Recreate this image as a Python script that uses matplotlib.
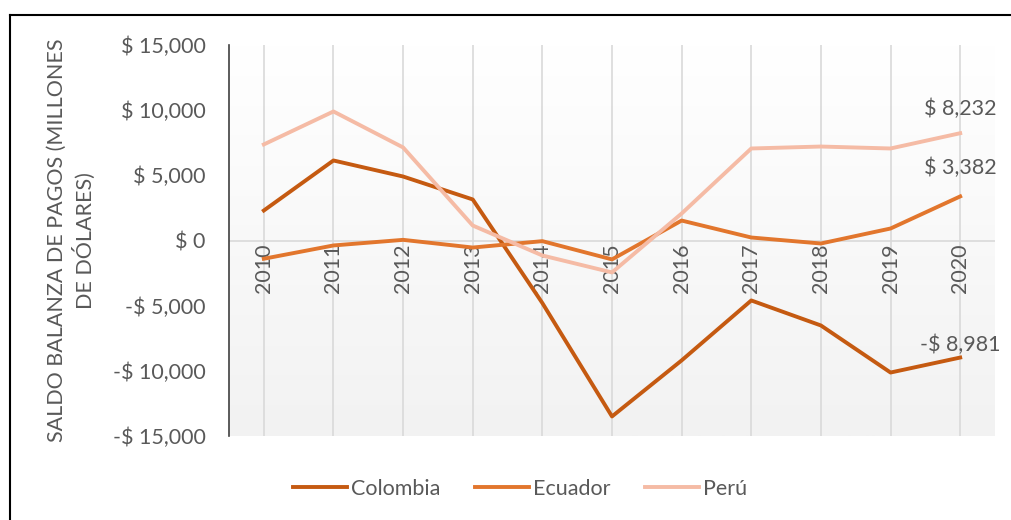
import matplotlib.pyplot as plt
import numpy as np
from matplotlib.lines import Line2D
from matplotlib.ticker import FuncFormatter

years = ["2010", "2011", "2012", "2013", "2014", "2015", "2016", "2017", "2018", "2019", "2020"]
colombia = [2300, 6140, 4910, 3150, -4800, -13500, -9200, -4600, -6520, -10130, -8981]
ecuador = [-1400, -380, 50, -540, -50, -1450, 1530, 230, -230, 920, 3382]
peru = [7370, 9900, 7140, 1150, -1150, -2450, 2070, 7060, 7210, 7060, 8232]

c_col = "#C55A11"
c_ecu = "#E2762D"
c_per = "#F5BBA5"
txt = "#595959"
fs = 15.5

plt.rcParams["font.family"] = ["Lato", "DejaVu Sans"]

fig = plt.figure(figsize=(10.11, 5.2), dpi=100)
ax = fig.add_axes([229 / 1011, 1 - 436 / 520, (995 - 229) / 1011, (436 - 45) / 520])

# gradient background of the plot area
grad = np.linspace(0, 1, 256).reshape(-1, 1)
ax.imshow(grad, extent=[0, 1, 0, 1], transform=ax.transAxes, aspect="auto",
          cmap=plt.matplotlib.colors.LinearSegmentedColormap.from_list("g", ["#F2F2F2", "#FFFFFF"]),
          origin="lower", zorder=0)

x = np.arange(len(years))
for xi in x:
    ax.plot([xi, xi], [-15000, 15000], color="#D9D9D9", lw=1.2, zorder=1)
ax.axhline(0, color="#D9D9D9", lw=1.2, zorder=1)

ax.plot(x, colombia, color=c_col, lw=2.8, label="Colombia", zorder=3)
ax.plot(x, ecuador, color=c_ecu, lw=2.8, label="Ecuador", zorder=3)
ax.plot(x, peru, color=c_per, lw=2.8, label="Perú", zorder=3)

ax.set_xlim(-0.5, len(years) - 0.5)
ax.set_ylim(-15000, 15000)
ax.set_yticks(np.arange(-15000, 15001, 5000))

def money(v, pos):
    if v < 0:
        return "-$ {:,.0f}".format(-v)
    return "$ {:,.0f}".format(v)

ax.yaxis.set_major_formatter(FuncFormatter(money))
ax.tick_params(axis="y", length=0, pad=17, labelsize=fs, labelcolor=txt)
ax.set_xticks([])
for s in ["top", "right", "bottom"]:
    ax.spines[s].set_visible(False)
ax.spines["left"].set_color("#404040")
ax.spines["left"].set_linewidth(1.2)

for xi, yr in zip(x, years):
    ax.annotate(yr, (xi, 0), xytext=(0, -2), textcoords="offset points",
                rotation=90, ha="center", va="top", fontsize=fs, color=txt, zorder=2)

# end labels
last = len(years) - 1
for vals, dy in [(peru, 10), (ecuador, 13), (colombia, 2)]:
    ax.annotate(money(vals[last], None), (last, vals[last]), xytext=(0, dy),
                textcoords="offset points", ha="center", va="bottom",
                fontsize=fs, color=txt, zorder=4)

ax.set_ylabel("SALDO BALANZA DE PAGOS (MILLONES\nDE DÓLARES)", fontsize=fs,
              color=txt, labelpad=12, linespacing=1.3)

fig.legend(loc="center", bbox_to_anchor=(520 / 1011, 1 - 489 / 520), ncol=3,
           frameon=False, fontsize=fs, labelcolor=txt, handlelength=2.5,
           handletextpad=0.2, columnspacing=1.6)

# outer border (top and left edges visible)
fig.add_artist(Line2D([10 / 1011, 1.0], [1 - 15 / 520, 1 - 15 / 520], color="black", lw=1.5,
                      transform=fig.transFigure))
fig.add_artist(Line2D([10 / 1011, 10 / 1011], [0, 1 - 15 / 520], color="black", lw=1.5,
                      transform=fig.transFigure))

fig.savefig("out.png", dpi=100)
